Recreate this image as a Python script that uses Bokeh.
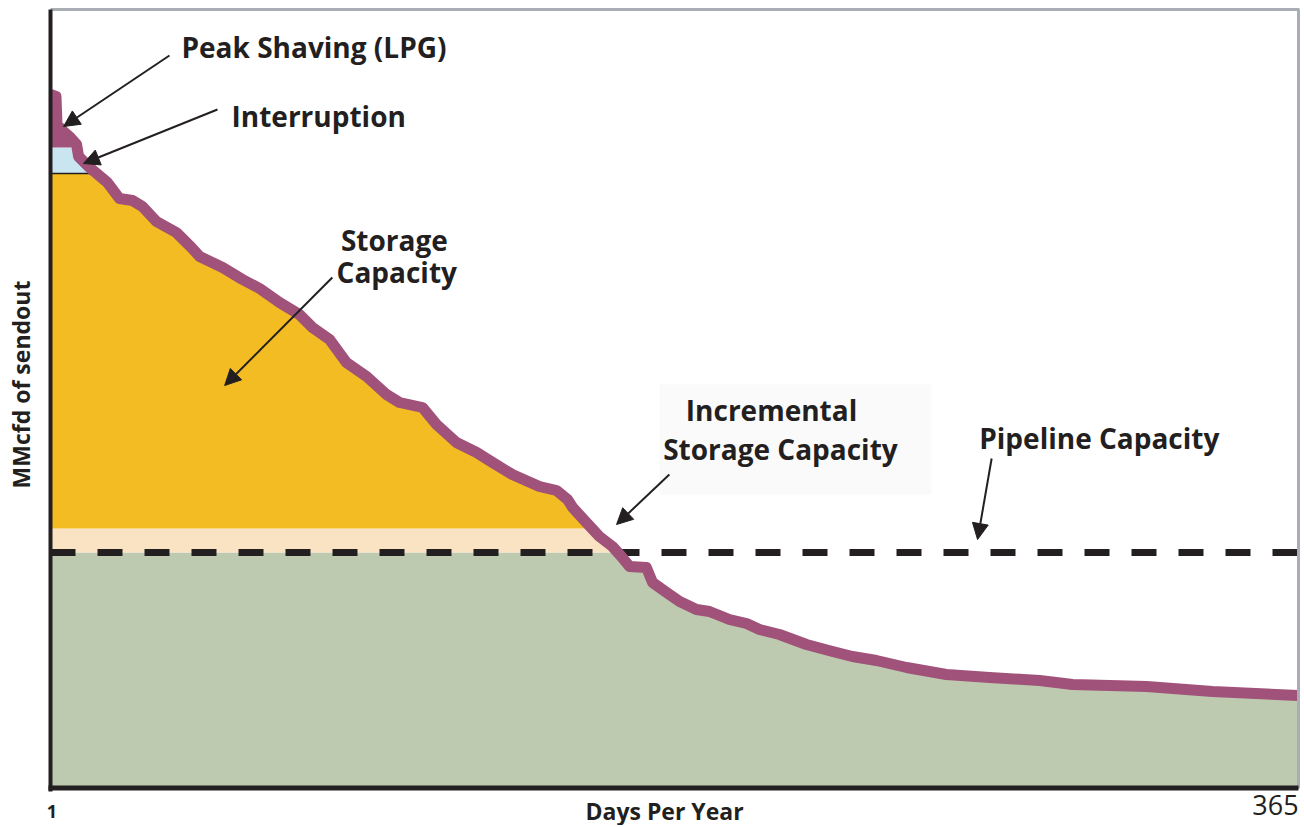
import numpy as np
from bokeh.plotting import figure
from bokeh.models import Range1d, Arrow, NormalHead
from bokeh.core.properties import value
from bokeh.embed import file_html
from bokeh.resources import INLINE

# ---- data: load duration curve (ranked days of year, MMcfd sendout, arbitrary units)
days = [1, 2.6, 2.9, 4.2, 6.5, 8.6, 9.2, 12.4, 17.6, 21.1, 24.9, 27.8, 31.9, 37.7, 42.1,
        44.5, 51.2, 57.0, 62.0, 67.8, 73.6, 77.4, 82.4, 87.3, 93.2, 99.0, 102.8, 109.5,
        113.6, 119.4, 125.3, 129.0, 135.7, 143.6, 148.6, 151.8, 153.3, 157.3, 161.1,
        164.9, 167.5, 169.9, 174.8, 176.6, 180.7, 184.5, 189.4, 193.2, 199.0, 204.0,
        207.8, 213.6, 221.5, 229.1, 234.9, 241.9, 250.7, 262.3, 274.9, 289.5, 299.1,
        320.7, 339.9, 365]
sendout = [694, 692, 664, 659, 652, 644, 632, 621, 606, 590, 588, 582, 567, 556, 541,
           532, 521, 509, 500, 486, 474, 461, 449, 426, 412, 394, 386, 381, 364, 346,
           336, 328, 314, 302, 298, 289, 281, 266, 252, 242, 232, 222, 221, 206, 196,
           187, 179, 177, 169, 165, 159, 154, 144, 137, 132, 128, 121, 114, 111, 108,
           104, 102, 97, 93]

# supply levels (same units)
pipeline_capacity = 236
incremental_storage_top = 260
storage_top = 615
interruption_top = 641
y_axis_top = 779

band_names = ["Pipeline", "Incremental Storage", "Storage", "Interruption", "Peak Shaving (LPG)"]
band_lo = [0, pipeline_capacity, incremental_storage_top, storage_top, interruption_top]
band_hi = [pipeline_capacity, incremental_storage_top, storage_top, interruption_top, y_axis_top]
band_colors = ["#BDCAB0", "#FAE3C3", "#F3BC22", "#C9E6F0", "#A0527A"]

# annotation texts
left_texts = ["Peak Shaving (LPG)", "Interruption"]
left_x = [39.2, 53.8]
left_y = [742, 673]
center_texts = ["Storage", "Capacity", "Incremental", "Storage Capacity", "Pipeline Capacity"]
center_x = [101.3, 102.0, 211.3, 213.9, 306.9]
center_y = [549, 517, 379, 340, 351]

# arrows (start -> tip)
arrow_x0 = [35.7, 49.7, 83.2, 181.5, 275.5]
arrow_y0 = [733, 679, 511, 314, 330]
arrow_x1 = [4.8, 10.6, 51.8, 166.1, 271.4]
arrow_y1 = [662, 625, 403, 264, 249]

# axis texts
x_tick_labels = ["1", "365"]
x_tick_pos = [1.4, 358.3]
x_title = "Days Per Year"
y_title = "MMcfd of sendout"

FONT = "Open Sans"
INK = "#231F20"

xs = np.array(days, dtype=float)
ys = np.array(sendout, dtype=float)


def band(lo, hi):
    px = list(xs)
    for i in range(len(xs) - 1):
        for lev in (lo, hi):
            if (ys[i] - lev) * (ys[i + 1] - lev) < 0:
                t = (lev - ys[i]) / (ys[i + 1] - ys[i])
                px.append(xs[i] + t * (xs[i + 1] - xs[i]))
    px = np.unique(np.array(px))
    yc = np.interp(px, xs, ys)
    return px, np.full(len(px), float(lo)), np.clip(yc, lo, hi)


PPD = 1248 / 364.0  # pixels per day
x0 = days[0] - 50 / PPD
p = figure(width=1302, height=825, output_backend="svg", toolbar_location=None,
           x_range=Range1d(x0, x0 + 1302 / PPD), y_range=Range1d(-37, 788),
           x_axis_location=None, y_axis_location=None,
           min_border_left=0, min_border_right=0, min_border_top=0, min_border_bottom=0)
p.grid.visible = False
p.outline_line_color = None
p.background_fill_color = "white"
p.border_fill_color = "white"

# faint box behind incremental storage label
p.quad(left=[178.6], right=[257.9], bottom=[294], top=[404], fill_color="#FAFAFA",
       line_color=None)

for lo, hi, c in zip(band_lo, band_hi, band_colors):
    bx, by1, by2 = band(lo, hi)
    p.varea(x=bx, y1=by1, y2=by2, fill_color=c)

# thin black line at top of storage band up to where curve drops below it
cross = [xs[i] + (storage_top - ys[i]) / (ys[i + 1] - ys[i]) * (xs[i + 1] - xs[i])
         for i in range(len(xs) - 1) if (ys[i] - storage_top) * (ys[i + 1] - storage_top) < 0][0]
p.line(x=[days[0], cross], y=[storage_top, storage_top], line_color=INK, line_width=1.5)

# pipeline capacity dashed line
p.line(x=[days[0], days[-1]], y=[pipeline_capacity, pipeline_capacity], line_color=INK,
       line_width=7, line_dash="25 22", line_cap="butt")

# load curve
p.line(x=days, y=sendout, line_color="#A0527A", line_width=11, line_join="round",
       line_cap="butt")

# frame lines
p.segment(x0=[days[0], days[-1]], y0=[y_axis_top, 0], x1=[days[-1] + 0.3, days[-1]],
          y1=[y_axis_top, y_axis_top], line_color="#A9AEB5", line_width=3)
p.segment(x0=[days[0], days[0] - 0.6], y0=[-3, 0.5], x1=[days[0], days[-1]],
          y1=[y_axis_top, 0.5], line_color=INK, line_width=[4, 5])

# arrows
for xa, ya, xb, yb in zip(arrow_x0, arrow_y0, arrow_x1, arrow_y1):
    p.add_layout(Arrow(x_start=xa, y_start=ya, x_end=xb, y_end=yb, line_color=INK,
                       line_width=2,
                       end=NormalHead(size=16, fill_color=INK, line_color=INK)))

p.text(x=left_x, y=left_y, text=left_texts, text_font=value(FONT), text_font_size="28px",
       text_font_style="bold", text_align="left", text_baseline="middle", text_color=INK)
p.text(x=center_x, y=center_y, text=center_texts, text_font=value(FONT),
       text_font_style="bold", text_font_size="28px", text_align="center",
       text_baseline="middle", text_color=INK)

# axis titles and end labels
p.text(x=[-7.5], y=[404], text=[y_title], angle=np.pi / 2, text_font=value(FONT),
       text_font_style="bold", text_font_size="23px", text_align="center",
       text_baseline="middle", text_color=INK)
p.text(x=[180.1], y=[-22], text=[x_title], text_font=value(FONT), text_font_style="bold",
       text_font_size="23px", text_align="center", text_baseline="middle", text_color=INK)
p.text(x=x_tick_pos[:1], y=[-23], text=x_tick_labels[:1], text_font=value(FONT),
       text_font_style="bold", text_font_size="18px", text_align="center",
       text_baseline="middle", text_color=INK)
p.text(x=x_tick_pos[1:], y=[-16], text=x_tick_labels[1:], text_font=value(FONT),
       text_font_size="27px", text_align="center", text_baseline="middle", text_color=INK)

open("out.html", "w").write(file_html(p, INLINE))
